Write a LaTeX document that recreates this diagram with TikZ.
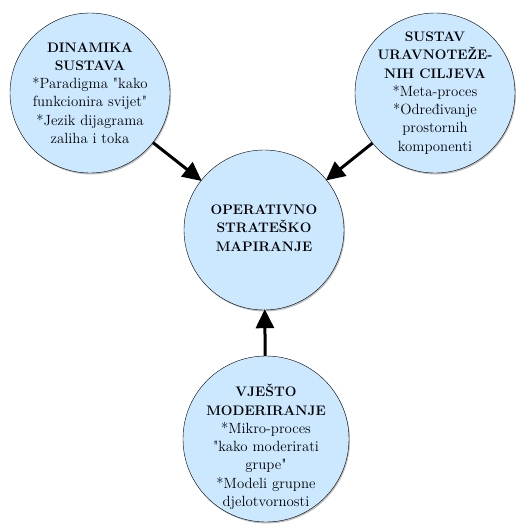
\documentclass[tikz,border=0pt]{standalone}
\usepackage{tikz}
\usetikzlibrary{arrows.meta,shadows}
\definecolor{circblue}{RGB}{204,232,255}
\newcommand{\dq}{\textquotedbl}
\newcommand{\hd}[1]{{\fontsize{13.8}{18.3}\selectfont\bfseries #1}}

\begin{document}
\begin{tikzpicture}[
  x=1pt,y=-1pt,
  mycirc/.style={draw,circle,fill=circblue,inner sep=0pt,minimum size=160pt,
    drop shadow={shadow xshift=1pt,shadow yshift=-1.5pt,opacity=0.5,fill=gray}},
  mytext/.style={align=center,font=\fontsize{14.8}{18.3}\selectfont},
  myarrow/.style={line width=3pt,-{Triangle[length=19pt,width=18pt]},shorten >=-1pt}
]
\useasboundingbox (0,0) rectangle (515,525);

\node[mycirc] (dyn) at (90,93) {};
\node[mycirc] (bal) at (435,93) {};
\node[mycirc] (osm) at (264,230) {};
\node[mycirc,minimum size=166pt] (mod) at (266,439) {};

\node[mytext] (dyntext) at (dyn) {\hd{DINAMIKA}\\\hd{SUSTAVA}\\*Paradigma \dq kako\\funkcionira svijet\dq\\*Jezik dijagrama\\zaliha i toka};
\node[mytext] (baltext) at (bal) {\hd{SUSTAV}\\\hd{URAVNOTEŽE-}\\\hd{NIH CILJEVA}\\*Meta-proces\\*Određivanje\\prostornih\\komponenti};
\node[mytext] (osmtext) at ([yshift=2pt]osm) {\hd{OPERATIVNO}\\\hd{STRATEŠKO}\\\hd{MAPIRANJE}};
\node[mytext] (modtext) at ([yshift=-8pt]mod) {\hd{VJEŠTO}\\\hd{MODERIRANJE}\\*Mikro-proces\\\dq kako moderirati\\grupe\dq\\*Modeli grupne\\djelotvornosti};

\path (dyn) edge[myarrow] (osm)
(bal) edge[myarrow] (osm)
(mod) edge[myarrow] (osm)
;

\end{tikzpicture}
\end{document}
